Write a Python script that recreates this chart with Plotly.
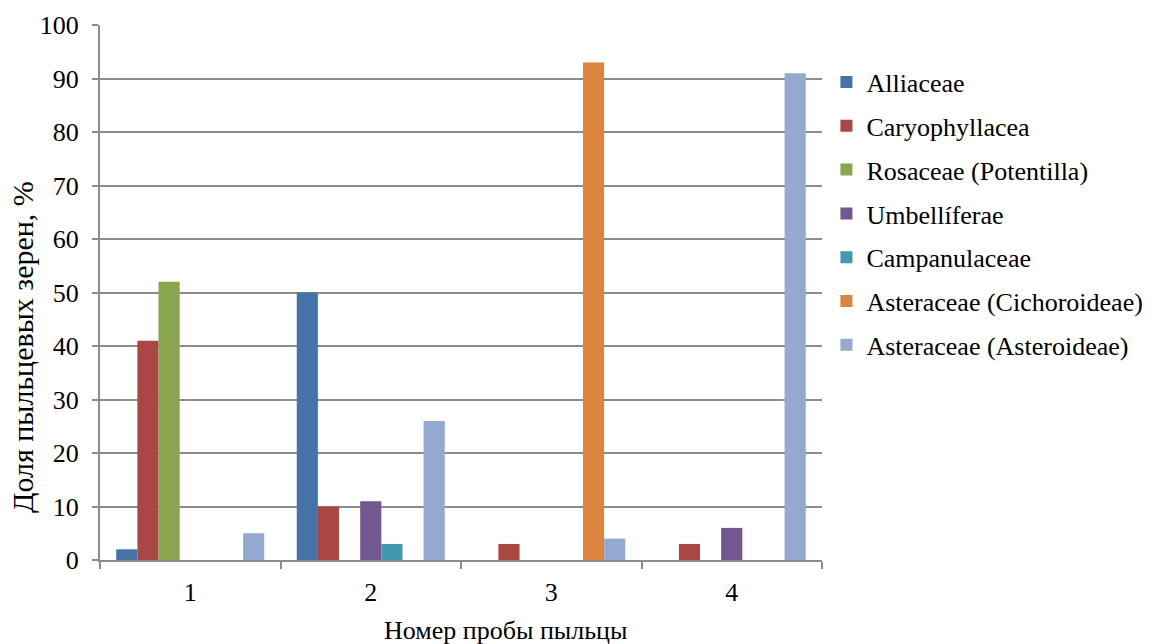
import plotly.graph_objects as go

# Pollen sample numbers (x categories)
samples = ["1", "2", "3", "4"]

# Share of pollen grains per family, % (values for samples 1..4)
alliaceae = [2, 50, 0, 0]
caryophyllacea = [41, 10, 3, 3]
rosaceae_potentilla = [52, 0, 0, 0]
umbelliferae = [0, 11, 0, 6]
campanulaceae = [0, 3, 0, 0]
asteraceae_cichoroideae = [0, 0, 93, 0]
asteraceae_asteroideae = [5, 26, 4, 91]

series_names = [
    "Alliaceae",
    "Caryophyllacea",
    "Rosaceae (Potentilla)",
    "Umbellíferae",
    "Campanulaceae",
    "Asteraceae (Cichoroideae)",
    "Asteraceae (Asteroideae)",
]
series_values = [
    alliaceae,
    caryophyllacea,
    rosaceae_potentilla,
    umbelliferae,
    campanulaceae,
    asteraceae_cichoroideae,
    asteraceae_asteroideae,
]
series_colors = ["#4572A7", "#AA4643", "#89A54E", "#71588F", "#4198AF", "#DB843D", "#93A9CF"]

y_ticks = list(range(0, 101, 10))

x_title = "Номер пробы пыльцы"
y_title = "Доля пыльцевых зерен, %"

FONT = "Liberation Serif"
FS = 26
GRID = "#8c8c8c"

fig = go.Figure()
for i, (name, vals, col) in enumerate(zip(series_names, series_values, series_colors)):
    fig.add_trace(
        go.Bar(
            x=samples,
            y=vals,
            name=name,
            legendgroup=f"g{i}",
            marker=dict(color=col, line=dict(width=0)),
        )
    )

fig.update_layout(
    width=1151,
    height=644,
    paper_bgcolor="white",
    plot_bgcolor="white",
    barmode="group",
    bargap=0.18,
    bargroupgap=0,
    margin=dict(l=100, r=329, t=25, b=84, autoexpand=False),
    font=dict(family=FONT, size=FS, color="black"),
    legend=dict(
        xref="container",
        yref="container",
        x=0.718,
        y=0.909,
        xanchor="left",
        yanchor="top",
        font=dict(family=FONT, size=FS, color="black"),
        tracegroupgap=7,
        itemwidth=30,
        bgcolor="rgba(0,0,0,0)",
    ),
    xaxis=dict(
        type="category",
        tickson="boundaries",
        ticks="outside",
        ticklen=7,
        tickwidth=2,
        tickcolor=GRID,
        showline=True,
        linecolor=GRID,
        linewidth=2,
        showgrid=False,
        tickfont=dict(family=FONT, size=FS),
        ticklabelstandoff=8,
    ),
    yaxis=dict(
        range=[0, 100],
        tickmode="array",
        tickvals=y_ticks,
        ticktext=[str(v) for v in y_ticks],
        ticks="outside",
        ticklen=6,
        tickwidth=2,
        tickcolor=GRID,
        showline=True,
        linecolor=GRID,
        linewidth=2,
        showgrid=True,
        gridcolor=GRID,
        gridwidth=2,
        zeroline=False,
        tickfont=dict(family=FONT, size=FS),
        ticklabelstandoff=8,
    ),
    annotations=[
        dict(
            text=x_title,
            xref="paper",
            yref="paper",
            x=0.3906,
            y=-0.1327,
            xanchor="left",
            yanchor="middle",
            showarrow=False,
            font=dict(family=FONT, size=FS, color="black"),
        ),
        dict(
            text=y_title,
            xref="paper",
            yref="paper",
            x=-0.108,
            y=0.084,
            xanchor="center",
            yanchor="bottom",
            textangle=-90,
            showarrow=False,
            font=dict(family=FONT, size=30, color="black"),
        ),
    ],
)

fig.write_html("out.html")
